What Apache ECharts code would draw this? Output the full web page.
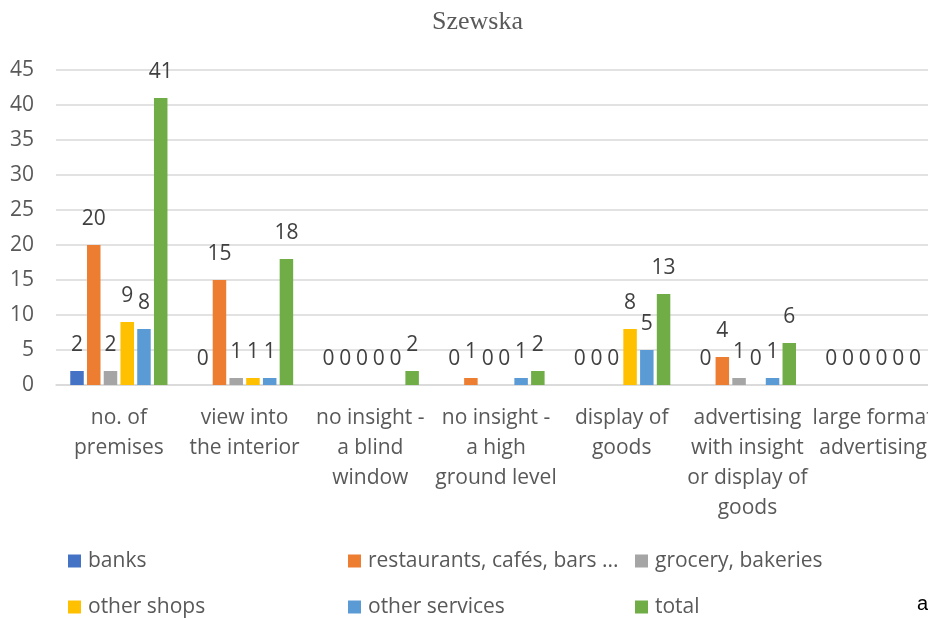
<!DOCTYPE html>
<html>
<head>
<meta charset="utf-8">
<script src="https://cdn.jsdelivr.net/npm/echarts@6/dist/echarts.min.js"></script>
<style>html,body{margin:0;padding:0;background:#fff}#c{width:928px;height:618px}</style>
</head>
<body>
<div id="c"></div>
<script>
const categories = [
  'no. of\npremises',
  'view into\nthe interior',
  'no insight -\na blind\nwindow',
  'no insight -\na high\nground level',
  'display of\ngoods',
  'advertising\nwith insight\nor display of\ngoods',
  'large format\nadvertising'
];
const seriesNames = ['banks', 'restaurants, cafés, bars ...', 'grocery, bakeries', 'other shops', 'other services', 'total'];
const banks         = [2, 0, 0, 0, 0, 0, 0];
const restaurants   = [20, 15, 0, 1, 0, 4, 0];
const grocery       = [2, 1, 0, 0, 0, 1, 0];
const otherShops    = [9, 1, 0, 0, 8, 0, 0];
const otherServices = [8, 1, 0, 1, 5, 1, 0];
const total         = [41, 18, 2, 2, 13, 6, 0];
const yTicks = { min: 0, max: 45, interval: 5 };

const seriesData = [banks, restaurants, grocery, otherShops, otherServices, total];
const colors = ['#4472C4', '#ED7D31', '#A5A5A5', '#FFC000', '#5B9BD5', '#70AD47'];
const FONT = '"Open Sans", "Liberation Sans", sans-serif';

const legendPos = [[68, 548], [348, 548], [635, 548], [68, 594], [348, 594], [635, 594]];

const chart = echarts.init(document.getElementById('c'), null, { renderer: 'canvas' });
chart.setOption({
  animation: false,
  backgroundColor: '#fff',
  color: colors,
  title: {
    text: 'Szewska',
    left: 432, top: 9, padding: 0,
    textStyle: { fontFamily: '"Liberation Serif", "Times New Roman", serif', fontSize: 26, fontWeight: 'normal', color: '#595959' }
  },
  legend: seriesNames.map((n, i) => ({
    data: [n],
    left: legendPos[i][0], top: legendPos[i][1], padding: 0,
    itemWidth: 13, itemHeight: 13, icon: 'rect',
    textStyle: { fontFamily: FONT, fontSize: 21, color: '#595959', lineHeight: 26, padding: [0, 0, 0, 2] }
  })),
  grid: { left: 56, top: 70, width: 880, height: 315, containLabel: false, outerBoundsMode: 'none' },
  xAxis: {
    type: 'category',
    data: categories,
    axisLine: { lineStyle: { color: '#d9d9d9', width: 1.5 } },
    axisTick: { show: false },
    axisLabel: { interval: 0, margin: 18, fontFamily: FONT, fontSize: 21, color: '#595959', lineHeight: 30 }
  },
  yAxis: {
    type: 'value',
    min: yTicks.min, max: yTicks.max, interval: yTicks.interval,
    axisLine: { show: false },
    axisTick: { show: false },
    splitLine: { lineStyle: { color: '#d9d9d9', width: 1.5 } },
    axisLabel: { margin: 22, fontFamily: FONT, fontSize: 21, color: '#595959' }
  },
  series: seriesNames.map((n, i) => ({
    name: n,
    type: 'bar',
    data: seriesData[i],
    barWidth: 13.5,
    barGap: '24%',
    itemStyle: { color: colors[i] },
    label: { show: true, position: 'top', distance: 15, fontFamily: FONT, fontSize: 21, color: '#404040' }
  })),
  graphic: [{
    type: 'text', left: 917, top: 594,
    style: { text: 'a', font: '20px "Liberation Sans", Arial, sans-serif', fill: '#000' }
  }]
});
</script>
</body>
</html>
